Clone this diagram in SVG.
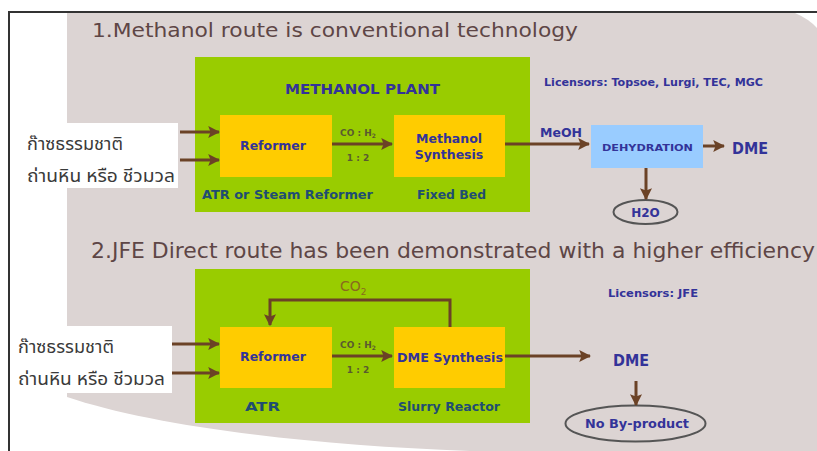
<svg xmlns="http://www.w3.org/2000/svg" width="817" height="451" viewBox="0 0 817 451">
  <defs>
    <marker id="arr" viewBox="0 0 10 10" refX="9" refY="5" markerWidth="4" markerHeight="4" orient="auto" markerUnits="strokeWidth">
      <path d="M0,0 L10,5 L0,10 L2,5 z" fill="#6b4226"/>
    </marker>
  </defs>
  <style>
    .title { font-family: "DejaVu Sans", Verdana, sans-serif; fill: #5e4646; }
    .lbl { font-family: "DejaVu Sans", Verdana, sans-serif; font-weight: bold; fill: #333399; }
    .sub { font-family: "DejaVu Sans", Verdana, sans-serif; font-weight: bold; fill: #1f4d72; font-size: 13px; }
    .ratio { font-family: "DejaVu Sans", Verdana, sans-serif; font-weight: bold; fill: #5a5a30; font-size: 9px; }
    .thai { font-family: "Noto Sans Thai", "Noto Sans", "DejaVu Sans", sans-serif; fill: #3a3a3a; font-size: 18px; }
    .flow { stroke: #6b4226; stroke-width: 3; fill: none; }
    .plant { fill: #99cc00; }
    .unit { fill: #ffcc00; }
  </style>

  <!-- page and background panel -->
  <rect x="0" y="0" width="817" height="451" fill="#ffffff"/>
  <path d="M67,13 H795 Q809,19 817,28 V451 H470 C300,445 150,425 67,397 Z" fill="#dcd4d3"/>
  <path d="M9,451 V12 H817" fill="none" stroke="#333333" stroke-width="2"/>

  <!-- headings -->
  <text class="title" x="92" y="37" font-size="20" textLength="486" lengthAdjust="spacingAndGlyphs">1.Methanol route is conventional technology</text>
  <text class="title" x="91" y="258" font-size="21" textLength="724" lengthAdjust="spacingAndGlyphs">2.JFE Direct route has been demonstrated with a higher efficiency</text>

  <!-- route 1 -->
  <g id="methanol-plant">
    <rect class="plant" x="195" y="57" width="335" height="155"/>
    <text class="lbl" x="285" y="94" font-size="14" textLength="155" lengthAdjust="spacingAndGlyphs">METHANOL PLANT</text>
    <text class="sub" x="202" y="199" textLength="171" lengthAdjust="spacingAndGlyphs">ATR or Steam Reformer</text>
    <text class="sub" x="417" y="199" textLength="69" lengthAdjust="spacingAndGlyphs">Fixed Bed</text>
  </g>
  <g id="reformer-1">
    <rect class="unit" x="220" y="115" width="112" height="62"/>
    <text class="lbl" x="240" y="150" font-size="12.5" textLength="66" lengthAdjust="spacingAndGlyphs">Reformer</text>
  </g>
  <g id="methanol-synthesis">
    <rect class="unit" x="394" y="115" width="111" height="62"/>
    <text class="lbl" x="449" y="143" font-size="12.5" text-anchor="middle">Methanol</text>
    <text class="lbl" x="449" y="159" font-size="12.5" text-anchor="middle">Synthesis</text>
  </g>
  <g id="feed-1">
    <rect x="10" y="123" width="168" height="65" fill="#ffffff"/>
    <text class="thai" x="27" y="150" textLength="96" lengthAdjust="spacingAndGlyphs">ก๊าซธรรมชาติ</text>
    <text class="thai" x="27" y="182" textLength="148" lengthAdjust="spacingAndGlyphs">ถ่านหิน หรือ ชีวมวล</text>
  </g>
  <g id="dehydration">
    <rect x="591" y="125" width="112" height="43" fill="#99ccff"/>
    <text class="lbl" x="602" y="151" font-size="9.5" textLength="91" lengthAdjust="spacingAndGlyphs">DEHYDRATION</text>
  </g>
  <g id="dme-1">
    <text class="lbl" x="732" y="154" font-size="16" textLength="36" lengthAdjust="spacingAndGlyphs">DME</text>
  </g>
  <g id="h2o">
    <ellipse cx="645.5" cy="212" rx="32" ry="12" fill="none" stroke="#555555" stroke-width="2"/>
    <text class="lbl" x="645.5" y="216.5" font-size="12" text-anchor="middle">H2O</text>
  </g>
  <g id="licensors-1">
    <text class="lbl" x="544" y="86" font-size="10" textLength="219" lengthAdjust="spacingAndGlyphs">Licensors:  Topsoe, Lurgi, TEC, MGC</text>
  </g>

  <!-- route 2 -->
  <g id="jfe-plant">
    <rect class="plant" x="195" y="269" width="335" height="154"/>
    <text class="sub" x="245" y="411" textLength="35" lengthAdjust="spacingAndGlyphs">ATR</text>
    <text class="sub" x="398" y="411" textLength="102" lengthAdjust="spacingAndGlyphs">Slurry Reactor</text>
  </g>
  <g id="reformer-2">
    <rect class="unit" x="220" y="327" width="112" height="61"/>
    <text class="lbl" x="240" y="361" font-size="12.5" textLength="66" lengthAdjust="spacingAndGlyphs">Reformer</text>
  </g>
  <g id="dme-synthesis">
    <rect class="unit" x="394" y="327" width="111" height="61"/>
    <text class="lbl" x="397" y="362" font-size="12.5" textLength="106" lengthAdjust="spacingAndGlyphs">DME Synthesis</text>
  </g>
  <g id="feed-2">
    <rect x="10" y="326" width="162" height="67" fill="#ffffff"/>
    <text class="thai" x="18" y="353" textLength="96" lengthAdjust="spacingAndGlyphs">ก๊าซธรรมชาติ</text>
    <text class="thai" x="18" y="385" textLength="147" lengthAdjust="spacingAndGlyphs">ถ่านหิน หรือ ชีวมวล</text>
  </g>
  <g id="dme-2">
    <text class="lbl" x="613" y="366" font-size="15" textLength="36" lengthAdjust="spacingAndGlyphs">DME</text>
  </g>
  <g id="no-byproduct">
    <ellipse cx="635.5" cy="423.5" rx="70" ry="18" fill="none" stroke="#555555" stroke-width="2"/>
    <text class="lbl" x="585" y="428" font-size="11.5" textLength="104" lengthAdjust="spacingAndGlyphs">No By-product</text>
  </g>
  <g id="licensors-2">
    <text class="lbl" x="608" y="297" font-size="10" textLength="90" lengthAdjust="spacingAndGlyphs">Licensors: JFE</text>
  </g>

  <!-- connectors -->
  <g id="connectors">
    <line class="flow" x1="180" y1="132" x2="219" y2="132" marker-end="url(#arr)"/>
    <line class="flow" x1="180" y1="160" x2="219" y2="160" marker-end="url(#arr)"/>
    <line class="flow" x1="332" y1="144" x2="392" y2="144" marker-end="url(#arr)"/>
    <line class="flow" x1="505" y1="144" x2="589" y2="144" marker-end="url(#arr)"/>
    <line class="flow" x1="703" y1="146" x2="724" y2="146" marker-end="url(#arr)"/>
    <line class="flow" x1="646" y1="168" x2="646" y2="199" marker-end="url(#arr)"/>

    <line class="flow" x1="172" y1="344" x2="219" y2="344" marker-end="url(#arr)"/>
    <line class="flow" x1="172" y1="373" x2="219" y2="373" marker-end="url(#arr)"/>
    <line class="flow" x1="332" y1="356" x2="392" y2="356" marker-end="url(#arr)"/>
    <line class="flow" x1="505" y1="356" x2="590" y2="356" marker-end="url(#arr)"/>
    <path class="flow" d="M450,327 V300 H270 V325" marker-end="url(#arr)"/>
    <line class="flow" x1="636" y1="381" x2="636" y2="405" marker-end="url(#arr)"/>

    <text class="ratio" x="358" y="136" text-anchor="middle">CO : H<tspan font-size="6" dy="2">2</tspan></text>
    <text class="ratio" x="358" y="161" text-anchor="middle">1 : 2</text>
    <text class="ratio" x="358" y="348" text-anchor="middle">CO : H<tspan font-size="6" dy="2">2</tspan></text>
    <text class="ratio" x="358" y="373" text-anchor="middle">1 : 2</text>
    <text x="340" y="291" font-family="'DejaVu Sans', Verdana, sans-serif" font-size="14" fill="#8a6a1e">CO<tspan font-size="9" dy="4">2</tspan></text>
    <text class="lbl" x="540" y="137" font-size="12.5" textLength="42" lengthAdjust="spacingAndGlyphs">MeOH</text>
  </g>
</svg>
